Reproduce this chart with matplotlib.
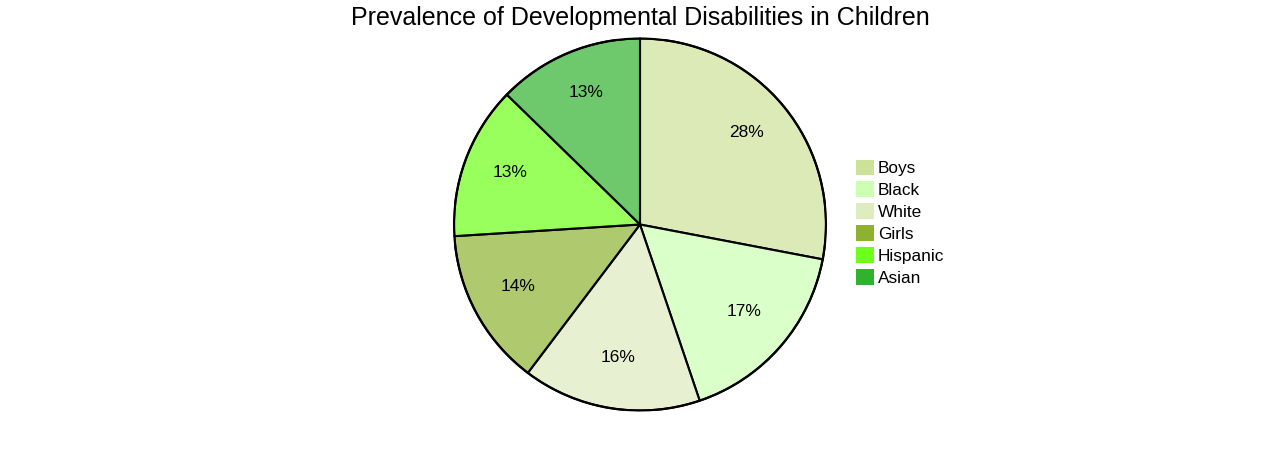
import matplotlib
matplotlib.use("Agg")
import matplotlib.pyplot as plt
from matplotlib.colors import to_rgba
from matplotlib.patches import Patch, Circle

plt.rcParams["font.family"] = ["Liberation Sans", "DejaVu Sans"]

# data (percent of total)
labels = ["Boys", "Black", "White", "Girls", "Hispanic", "Asian"]
values = [28.0, 16.8, 15.5, 13.7, 13.3, 12.7]
colors = ["#cce299", "#cdffb3", "#deecbf", "#8eb230", "#6dff19", "#31b22f"]

fig = plt.figure(figsize=(12.8, 4.5), dpi=100)
fig.patch.set_facecolor("white")

# square axes, 372 px across, centred at (640, 224.5)
ax = fig.add_axes([454 / 1280, 39.5 / 450, 372 / 1280, 372 / 450])
face = [to_rgba(c, 0.7) for c in colors]
wedges, texts, autotexts = ax.pie(
    values,
    colors=face,
    startangle=90,
    counterclock=False,
    autopct=lambda p: f"{p:.0f}%",
    pctdistance=0.745,
    radius=1.0,
    wedgeprops=dict(edgecolor="black", linewidth=1.5),
    textprops=dict(fontsize=12.5, color="black"),
)
# labels sit a few pixels above their slice point in the original
for t in autotexts:
    x, y = t.get_position()
    t.set_position((x, y + 0.022))

ax.add_patch(Circle((0, 0), 1.0, fill=False, edgecolor="black", linewidth=1.6))
ax.set_xlim(-1.0, 1.0)
ax.set_ylim(-1.0, 1.0)
ax.set_aspect("equal")
ax.axis("off")

fig.text(0.5, 1 - 18 / 450, "Prevalence of Developmental Disabilities in Children",
         ha="center", va="center", fontsize=18)

handles = [Patch(facecolor=c, edgecolor="none") for c in colors]
fig.legend(handles, labels, loc="upper left",
           bbox_to_anchor=(856 / 1280, 1 - 159.5 / 450),
           frameon=False, fontsize=12.4, borderpad=0, borderaxespad=0,
           handlelength=1.05, handleheight=1.05, handletextpad=0.22,
           labelspacing=0.29)

fig.savefig("out.png", dpi=100, facecolor="white")
